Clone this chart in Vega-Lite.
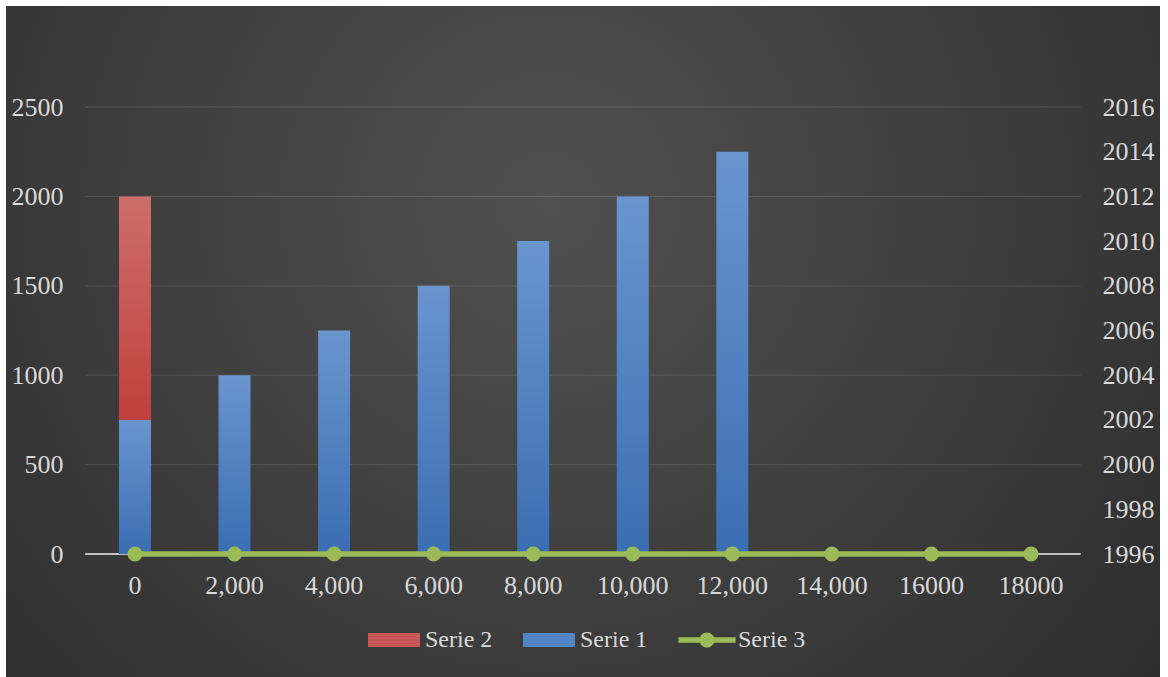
{
  "$schema": "https://vega.github.io/schema/vega-lite/v6.json",
  "width": 1154,
  "height": 671,
  "autosize": {"type": "none"},
  "padding": {"left": 6, "top": 6, "right": 8, "bottom": 0},
  "background": "#ffffff",
  "config": {
    "view": {
      "stroke": null,
      "fill": {
        "gradient": "radial",
        "x1": 0.47, "y1": 0.38, "x2": 0.47, "y2": 0.38,
        "r1": 0, "r2": 0.78,
        "stops": [
          {"offset": 0, "color": "#505050"},
          {"offset": 1, "color": "#282828"}
        ]
      }
    },
    "font": "Liberation Serif",
    "axis": {
      "labelFont": "Liberation Serif",
      "labelFontSize": 26,
      "labelColor": "#d9d9d9",
      "domain": false,
      "ticks": false,
      "tickSize": 0,
      "grid": false,
      "labelPadding": 0
    }
  },
  "datasets": {
    "bars": [
      {"cat": "0", "series": "Serie 1", "value": 750},
      {"cat": "0", "series": "Serie 2", "value": 1250},
      {"cat": "2,000", "series": "Serie 1", "value": 1000},
      {"cat": "4,000", "series": "Serie 1", "value": 1250},
      {"cat": "6,000", "series": "Serie 1", "value": 1500},
      {"cat": "8,000", "series": "Serie 1", "value": 1750},
      {"cat": "10,000", "series": "Serie 1", "value": 2000},
      {"cat": "12,000", "series": "Serie 1", "value": 2250}
    ],
    "line": [
      {"cat": "0", "series": "Serie 3", "value": 1996},
      {"cat": "2,000", "series": "Serie 3", "value": 1996},
      {"cat": "4,000", "series": "Serie 3", "value": 1996},
      {"cat": "6,000", "series": "Serie 3", "value": 1996},
      {"cat": "8,000", "series": "Serie 3", "value": 1996},
      {"cat": "10,000", "series": "Serie 3", "value": 1996},
      {"cat": "12,000", "series": "Serie 3", "value": 1996},
      {"cat": "14,000", "series": "Serie 3", "value": 1996},
      {"cat": "16000", "series": "Serie 3", "value": 1996},
      {"cat": "18000", "series": "Serie 3", "value": 1996}
    ],
    "grid": [
      {"v": 0}, {"v": 500}, {"v": 1000}, {"v": 1500}, {"v": 2000}, {"v": 2500}
    ]
  },
  "layer": [
    {
      "layer": [
        {
          "data": {"name": "grid"},
          "mark": {"type": "rule"},
          "encoding": {
            "y": {
              "field": "v", "type": "quantitative",
              "scale": {"domain": [-687.9, 3064.9], "nice": false, "zero": false},
              "axis": {"orient": "left", "offset": -57, "values": [0, 500, 1000, 1500, 2000, 2500], "format": "d", "title": null}
            },
            "x": {"datum": "0", "type": "nominal", "bandPosition": -0.345},
            "x2": {"datum": "18000", "bandPosition": 1.345},
            "color": {"condition": {"test": "datum.v == 0", "value": "#bfbfbf"}, "value": "#ffffff"},
            "opacity": {"condition": {"test": "datum.v == 0", "value": 1}, "value": 0.1},
            "strokeWidth": {"condition": {"test": "datum.v == 0", "value": 2}, "value": 1.3}
          }
        },
        {
          "data": {"name": "bars"},
          "mark": {"type": "bar", "width": 32},
          "encoding": {
            "x": {
              "field": "cat", "type": "nominal",
              "scale": {
                "domain": ["0", "2,000", "4,000", "6,000", "8,000", "10,000", "12,000", "14,000", "16000", "18000"],
                "paddingInner": 0.4085, "paddingOuter": 1
              },
              "axis": {"orient": "bottom", "offset": -105, "labelAngle": 0, "labelAlign": "center", "title": null, "labelBaseline": "top"}
            },
            "y": {
              "field": "value", "type": "quantitative", "stack": "zero",
              "scale": {"domain": [-687.9, 3064.9], "nice": false, "zero": false},
              "axis": {"orient": "left", "offset": -57, "values": [0, 500, 1000, 1500, 2000, 2500], "format": "d", "title": null}
            },
            "detail": {"field": "series", "type": "nominal"},
            "order": {"field": "series", "sort": "ascending"},
            "fill": {
              "condition": {
                "test": "datum.series === 'Serie 2'",
                "value": {"gradient": "linear", "x1": 0, "y1": 0, "x2": 0, "y2": 1, "stops": [{"offset": 0, "color": "#cd6e6b"}, {"offset": 1, "color": "#c0403c"}]}
              },
              "value": {"gradient": "linear", "x1": 0, "y1": 0, "x2": 0, "y2": 1, "stops": [{"offset": 0, "color": "#6a95cf"}, {"offset": 1, "color": "#3a6eb2"}]}
            }
          }
        }
      ]
    },
    {
      "data": {"name": "line"},
      "mark": {"type": "line", "strokeWidth": 5.5, "point": {"filled": true, "size": 227, "opacity": 1}},
      "encoding": {
        "x": {"field": "cat", "type": "nominal"},
        "y": {
          "field": "value", "type": "quantitative",
          "scale": {"domain": [1990.497, 2020.519], "nice": false, "zero": false},
          "axis": {"orient": "right", "offset": -58, "values": [1996, 1998, 2000, 2002, 2004, 2006, 2008, 2010, 2012, 2014, 2016], "format": "d", "title": null}
        },
        "color": {
          "field": "series", "type": "nominal",
          "scale": {"domain": ["Serie 2", "Serie 1", "Serie 3"], "range": ["#c75955", "#5384c4", "#9bbb59"]},
          "legend": {
            "orient": "none", "legendX": 362, "legendY": 608, "direction": "horizontal",
            "title": null, "labelFont": "Liberation Serif", "labelFontSize": 24, "labelColor": "#d9d9d9",
            "symbolSize": 2704, "labelOffset": 5, "columnPadding": 30, "padding": 0,
            "encode": {
              "symbols": {
                "update": {
                  "shape": {"signal": "datum.value === 'Serie 3' ? 'M-1.1,-0.11H1.1V0.11H-1.1Z M0.29,0A0.29,0.29,0,1,1,-0.29,0A0.29,0.29,0,1,1,0.29,0Z' : 'M-1,-0.27H1V0.27H-1Z'"},
                  "fill": {"scale": "color", "field": "value"},
                  "stroke": {"value": "transparent"},
                  "strokeWidth": {"value": 0},
                  "opacity": {"value": 1}
                }
              }
            }
          }
        }
      }
    }
  ],
  "resolve": {"scale": {"y": "independent"}, "axis": {"y": "independent"}}
}
